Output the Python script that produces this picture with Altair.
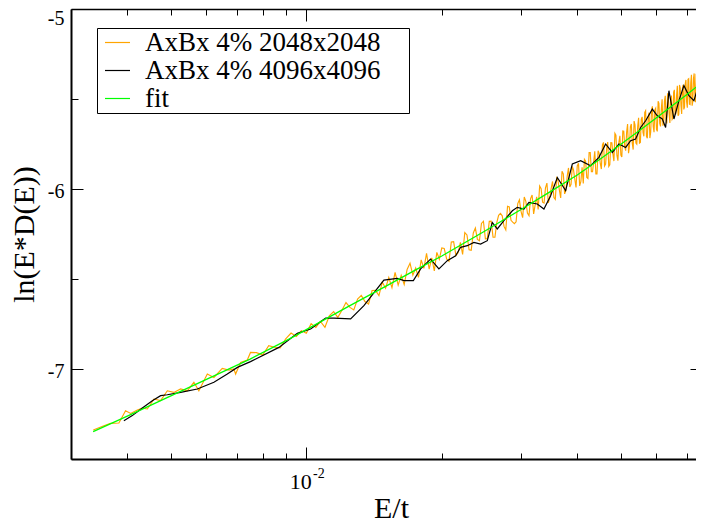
import altair as alt
import pandas as pd

SERIF = "Liberation Serif"

SERIES = ["AxBx 4% 2048x2048", "AxBx 4% 4096x4096", "fit"]
COLORS = ["#ffa500", "#000000", "#00ff00"]

# ---- orange: AxBx 4% 2048x2048 ----
orange_E = [
    0.003362, 0.003549, 0.003673, 0.003833, 0.003966, 0.004070, 0.004212, 0.004322, 0.004434, 0.004585,
    0.004745, 0.004911, 0.005078, 0.005256, 0.005439, 0.005626, 0.005771, 0.006026, 0.006233, 0.006505,
    0.006730, 0.006904, 0.006965, 0.007145, 0.007394, 0.007516,
    0.00775, 0.008, 0.00825, 0.0085, 0.00875, 0.009, 0.00925, 0.0095, 0.00975, 0.01,
    0.01025, 0.0105, 0.01075, 0.011, 0.01125, 0.0115, 0.01175, 0.012, 0.01225, 0.0125,
    0.01275, 0.013, 0.01325, 0.0135, 0.01375, 0.014, 0.01425, 0.0145, 0.01475, 0.015,
    0.01525, 0.0155, 0.01575, 0.016, 0.01625, 0.0165, 0.01675, 0.017, 0.01725, 0.0175,
    0.01775, 0.018, 0.01825, 0.0185, 0.01875, 0.019, 0.01925, 0.0195, 0.01975, 0.02,
    0.0205, 0.021, 0.0215, 0.022, 0.0225, 0.023, 0.0235, 0.024, 0.0245, 0.025,
    0.0255, 0.026, 0.0265, 0.027, 0.0275, 0.028, 0.0285, 0.029, 0.0295, 0.03,
    0.0305, 0.031, 0.0315, 0.032, 0.0325, 0.033, 0.0335, 0.034, 0.0345, 0.035,
    0.0355, 0.036, 0.0365, 0.037, 0.0375, 0.038, 0.0385, 0.039, 0.0395, 0.04,
    0.0405, 0.041, 0.0415, 0.042, 0.0425, 0.043, 0.0435, 0.044, 0.0445, 0.045,
    0.0455, 0.046, 0.0465, 0.047, 0.0475, 0.048, 0.0485, 0.049, 0.0495, 0.05,
    0.0505, 0.051, 0.0515, 0.052, 0.0525, 0.053, 0.0535, 0.054, 0.0545, 0.055,
    0.0555, 0.056, 0.0565, 0.057, 0.0575, 0.058, 0.0585, 0.059, 0.0595, 0.06,
    0.0605, 0.061, 0.0615, 0.062, 0.0625, 0.063, 0.0635, 0.064, 0.0645, 0.065,
    0.0655, 0.066, 0.0665, 0.067, 0.0675, 0.068, 0.0685, 0.069, 0.0695, 0.07,
    0.0705, 0.071, 0.0715, 0.072, 0.0725, 0.073, 0.0735, 0.074, 0.0745, 0.075,
    0.0755, 0.076, 0.0765,
]
orange_y = [
    -7.339, -7.315, -7.302, -7.300, -7.232, -7.247, -7.228, -7.217, -7.222, -7.167,
    -7.176, -7.121, -7.130, -7.111, -7.121, -7.074, -7.121, -7.028, -7.047, -6.997,
    -7.006, -7.000, -7.028, -6.963, -6.950, -6.908,
    -6.909, -6.922, -6.871, -6.879, -6.883, -6.832, -6.800, -6.819, -6.787, -6.801,
    -6.748, -6.769, -6.736, -6.768, -6.704, -6.681, -6.713, -6.674, -6.631, -6.658,
    -6.672, -6.612, -6.591, -6.625, -6.639, -6.564, -6.563, -6.592, -6.517, -6.551,
    -6.492, -6.548, -6.463, -6.534, -6.480, -6.531, -6.447, -6.412, -6.478, -6.439,
    -6.491, -6.394, -6.441, -6.358, -6.445, -6.383, -6.455, -6.352, -6.390, -6.327,
    -6.388, -6.294, -6.370, -6.296, -6.242, -6.338, -6.244, -6.280, -6.191, -6.277,
    -6.180, -6.268, -6.187, -6.135, -6.208, -6.096, -6.174, -6.193, -6.081, -6.124,
    -6.044, -6.134, -6.053, -6.138, -6.043, -5.983, -6.073, -5.993, -6.077, -5.997,
    -6.048, -5.939, -6.005, -5.901, -6.027, -5.928, -5.989, -5.875, -5.946, -5.872,
    -5.983, -5.879, -5.835, -5.936, -5.798, -5.904, -5.850, -5.916, -5.787, -5.858,
    -5.755, -5.872, -5.773, -5.875, -5.742, -5.804, -5.691, -5.812, -5.739, -5.811,
    -5.678, -5.766, -5.683, -5.801, -5.653, -5.745, -5.623, -5.745, -5.653, -5.745,
    -5.613, -5.686, -5.574, -5.707, -5.600, -5.717, -5.560, -5.653, -5.561, -5.669,
    -5.512, -5.636, -5.554, -5.648, -5.511, -5.614, -5.468, -5.581, -5.500, -5.613,
    -5.462, -5.586, -5.479, -5.593, -5.422, -5.536, -5.440, -5.558, -5.417, -5.516,
    -5.390, -5.529, -5.408, -5.537, -5.386, -5.471, -5.360, -5.489, -5.333, -5.467,
    -5.351, -5.476, -5.320,
]
# denser part of the same orange series (between the samples above)
orange_E_dense = [
    0.02025, 0.02075, 0.02125, 0.02175, 0.02225, 0.02275, 0.02325, 0.02375, 0.02425, 0.02475,
    0.02525, 0.02575, 0.02625, 0.02675, 0.02725, 0.02775, 0.02825, 0.02875, 0.02925, 0.02975,
    0.03025, 0.03075, 0.03125, 0.03175, 0.03225, 0.03275, 0.03325, 0.03375, 0.03425, 0.03475,
    0.03525, 0.03575, 0.03625, 0.03675, 0.03725, 0.03775, 0.03825, 0.03875, 0.03925, 0.03975,
    0.04025, 0.04075, 0.04125, 0.04175, 0.04225, 0.04275, 0.04325, 0.04375, 0.04425, 0.04475,
    0.04525, 0.04575, 0.04625, 0.04675, 0.04725, 0.04775, 0.04825, 0.04875, 0.04925, 0.04975,
    0.05025, 0.05075, 0.05125, 0.05175, 0.05225, 0.05275, 0.05325, 0.05375, 0.05425, 0.05475,
    0.05525, 0.05575, 0.05625, 0.05675, 0.05725, 0.05775, 0.05825, 0.05875, 0.05925, 0.05975,
    0.06025, 0.06075, 0.06125, 0.06175, 0.06225, 0.06275, 0.06325, 0.06375, 0.06425, 0.06475,
    0.06525, 0.06575, 0.06625, 0.06675, 0.06725, 0.06775, 0.06825, 0.06875, 0.06925, 0.06975,
    0.07025, 0.07075, 0.07125, 0.07175, 0.07225, 0.07275, 0.07325,
]
orange_y_dense = [
    -6.330, -6.401, -6.292, -6.353, -6.364, -6.255, -6.341, -6.217, -6.288, -6.179,
    -6.276, -6.179, -6.268, -6.146, -6.149, -6.227, -6.100, -6.184, -6.182, -6.060,
    -6.159, -6.069, -6.148, -6.033, -6.088, -6.113, -5.998, -6.078, -5.967, -6.047,
    -5.958, -6.058, -5.954, -6.050, -5.916, -6.007, -5.883, -5.974, -5.895, -5.991,
    -5.857, -5.958, -5.969, -5.845, -5.942, -5.798, -5.904, -5.790, -5.916, -5.802,
    -5.889, -5.741, -5.862, -5.739, -5.866, -5.743, -5.845, -5.701, -5.843, -5.705,
    -5.822, -5.679, -5.787, -5.639, -5.762, -5.639, -5.781, -5.644, -5.751, -5.604,
    -5.741, -5.599, -5.707, -5.565, -5.718, -5.576, -5.683, -5.541, -5.684, -5.552,
    -5.680, -5.524, -5.652, -5.501, -5.634, -5.482, -5.636, -5.489, -5.633, -5.481,
    -5.605, -5.449, -5.582, -5.426, -5.585, -5.439, -5.583, -5.421, -5.545, -5.394,
    -5.548, -5.387, -5.531, -5.365, -5.514, -5.358, -5.518,
]

# ---- black: AxBx 4% 4096x4096 ----
black_E = [
    0.003932, 0.004105, 0.004322, 0.004548, 0.004745, 0.004911, 0.005256, 0.005726, 0.006233, 0.006675,
    0.007027, 0.007516, 0.008692, 0.00955, 0.010223, 0.011038, 0.011515, 0.012545, 0.013428, 0.014873,
    0.015929, 0.016477, 0.017291, 0.017947, 0.018887, 0.019709, 0.020572, 0.021468, 0.022023, 0.022791,
    0.02357, 0.024393, 0.025245, 0.025899, 0.02657, 0.027484, 0.028696, 0.029437, 0.03045, 0.031238,
    0.032605, 0.033729, 0.034906, 0.036123, 0.037689, 0.039004, 0.040704, 0.042837, 0.044691, 0.046251,
    0.047863, 0.04951, 0.051237, 0.052563, 0.053925, 0.055322, 0.056757, 0.058737, 0.060256, 0.061814,
    0.062862, 0.063942, 0.065599, 0.067298, 0.06904, 0.070828, 0.072663, 0.074545, 0.075858, 0.0765,
]
black_y = [
    -7.287, -7.259, -7.217, -7.176, -7.148, -7.143, -7.130, -7.111, -7.074, -7.028,
    -6.991, -6.959, -6.880, -6.802, -6.778, -6.717, -6.717, -6.722, -6.648, -6.506,
    -6.497, -6.509, -6.509, -6.444, -6.389, -6.444, -6.398, -6.371, -6.324, -6.315,
    -6.297, -6.306, -6.287, -6.186, -6.222, -6.176, -6.121, -6.102, -6.111, -6.074,
    -6.083, -6.111, -6.037, -5.936, -6.009, -5.861, -5.843, -5.871, -5.824, -5.750,
    -5.797, -5.750, -5.769, -5.732, -5.722, -5.658, -5.621, -5.556, -5.593, -5.611,
    -5.658, -5.454, -5.611, -5.509, -5.426, -5.482, -5.509, -5.417, -5.398, -5.389,
]

# ---- green: fit ----
fit_E = [0.00336, 0.00407, 0.005, 0.0061, 0.0075, 0.0092, 0.01, 0.0125, 0.015, 0.0175, 0.02, 0.025,
         0.03, 0.035, 0.04, 0.045, 0.05, 0.055, 0.06, 0.065, 0.07, 0.075, 0.0765]
fit_y = [-7.348, -7.253, -7.149, -7.049, -6.945, -6.831, -6.781, -6.648, -6.541, -6.449, -6.372, -6.232,
         -6.114, -6.012, -5.922, -5.833, -5.751, -5.675, -5.604, -5.538, -5.476, -5.417, -5.397]

# ---- axes ----
x_domain = [0.003, 0.07344]
y_domain = [-7.5, -5.0]
x_major = [0.01]
x_minor = [0.004, 0.005, 0.006, 0.007, 0.008, 0.009, 0.02, 0.03, 0.04, 0.05, 0.06, 0.07]
y_major = [-7, -6, -5]
y_minor = [-7.5, -6.5, -5.5]

df_o = pd.DataFrame({"E": orange_E + orange_E_dense, "v": orange_y + orange_y_dense, "s": SERIES[0]})
df_b = pd.DataFrame({"E": black_E, "v": black_y, "s": SERIES[1]})
df_f = pd.DataFrame({"E": fit_E, "v": fit_y, "s": SERIES[2]})

xs = alt.Scale(type="log", domain=x_domain, nice=False)
ys = alt.Scale(domain=y_domain, nice=False, zero=False)

legend = alt.Legend(
    orient="none", legendX=26, legendY=19, title=None,
    symbolType="stroke", symbolSize=625, symbolStrokeWidth=1.2, symbolOffset=6,
    labelOffset=14, labelFont=SERIF, labelFontSize=27, labelLimit=600, labelColor="black",
    labelExpr="datum.label + '\u00a0\u00a0\u00a0\u00a0\u200b'",
    padding=1, rowPadding=0, strokeColor="black",
)
color = alt.Color("s:N", scale=alt.Scale(domain=SERIES, range=COLORS), legend=legend)


def tick_axis(orient, values, size, offset):
    return alt.Axis(orient=orient, values=values, tickSize=size, offset=offset,
                    domain=False, labels=False, ticks=True, grid=False, title=None,
                    tickColor="black", tickWidth=1)


x_bottom_main = alt.Axis(
    orient="bottom", values=x_major, labelExpr="'10'", domain=True, domainColor="black",
    domainWidth=2, ticks=False, tickSize=0, grid=False,
    labelFont=SERIF, labelFontSize=22, labelColor="black", labelBaseline="alphabetic",
    labelPadding=29, labelOffset=-6,
    title="E/t", titleFont=SERIF, titleFontSize=30, titleFontWeight="normal", titleColor="black",
    titleBaseline="alphabetic", titleY=58, titleX=320,
)
x_bottom_major = alt.Axis(
    orient="bottom", values=x_major, offset=-12, tickSize=12, domain=False, ticks=True,
    tickColor="black", tickWidth=1, grid=False, labels=True, labelExpr="'-2'",
    labelFont=SERIF, labelFontSize=14, labelColor="black", labelBaseline="alphabetic",
    labelPadding=18, labelOffset=12, title=None,
)
x_bottom_minor = tick_axis("bottom", x_minor, 6, -6)
x_top_dom = alt.Axis(orient="top", domain=True, domainColor="black", domainWidth=1.5,
                     ticks=False, labels=False, grid=False, title=None)
x_top_major = tick_axis("top", x_major, 12, -12)
x_top_minor = tick_axis("top", x_minor, 6, -6)

y_left_main = alt.Axis(
    orient="left", values=y_major, domain=True, domainColor="black", domainWidth=2,
    ticks=False, labels=False, grid=False,
    title="ln(E*D(E))", titleFont=SERIF, titleFontSize=30, titleFontWeight="normal",
    titleColor="black", titleBaseline="alphabetic", titleAngle=270, titleAlign="center",
    titleX=-38, titleY=225,
)
y_left_major = alt.Axis(
    orient="left", values=y_major, tickSize=12, offset=-12, domain=False, ticks=True,
    tickColor="black", tickWidth=1, grid=False, labels=True, labelExpr="'' + datum.value",
    labelFont=SERIF, labelFontSize=20, labelColor="black", labelAlign="right",
    labelPadding=7, labelOffset=2, labelFlush=True, labelFlushOffset=3, title=None,
)
y_left_minor = tick_axis("left", y_minor, 7, -7)
y_right_major = tick_axis("right", [-7, -6], 6, -6)

L1 = alt.Chart(df_o).mark_line(strokeWidth=1.15, clip=True).encode(
    x=alt.X("E:Q", scale=xs, axis=x_bottom_main),
    y=alt.Y("v:Q", scale=ys, axis=y_left_main), color=color)
L2 = alt.Chart(df_b).mark_line(strokeWidth=1.2, clip=True).encode(
    x=alt.X("E:Q", scale=xs, axis=x_bottom_major),
    y=alt.Y("v:Q", scale=ys, axis=y_left_major), color=color)
L3 = alt.Chart(df_f).mark_line(strokeWidth=1.3, clip=True).encode(
    x=alt.X("E:Q", scale=xs, axis=x_bottom_minor),
    y=alt.Y("v:Q", scale=ys, axis=y_left_minor), color=color)
L4 = alt.Chart(df_f).mark_line(opacity=0, clip=True).encode(
    x=alt.X("E:Q", scale=xs, axis=x_top_dom),
    y=alt.Y("v:Q", scale=ys, axis=y_right_major))
L5 = alt.Chart(df_f).mark_line(opacity=0, clip=True).encode(
    x=alt.X("E:Q", scale=xs, axis=x_top_major),
    y=alt.Y("v:Q", scale=ys, axis=None))
L6 = alt.Chart(df_f).mark_line(opacity=0, clip=True).encode(
    x=alt.X("E:Q", scale=xs, axis=x_top_minor),
    y=alt.Y("v:Q", scale=ys, axis=None))

chart = (
    alt.layer(L1, L2, L3, L4, L5, L6)
    .resolve_axis(x="independent", y="independent")
    .properties(
        width=625, height=450,
        autosize=alt.AutoSizeParams(type="none"),
        padding={"left": 63, "top": 1, "right": 0, "bottom": 66},
        background="white",
    )
    .configure(font=SERIF)
    .configure_view(strokeWidth=0)
)

chart.save("out.html", embed_options={"renderer": "svg", "actions": False})
